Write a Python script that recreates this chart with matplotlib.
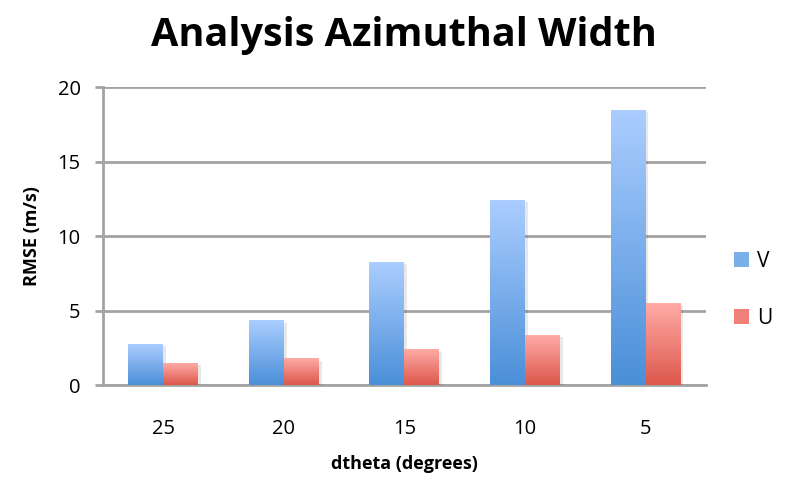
import numpy as np
import matplotlib
matplotlib.use("Agg")
import matplotlib.pyplot as plt
import matplotlib.patheffects as pe
from matplotlib.patches import Patch

plt.rcParams["font.family"] = ["Open Sans", "DejaVu Sans"]

# data
categories = ["25", "20", "15", "10", "5"]
v_vals = [2.75, 4.3, 8.2, 12.4, 18.45]
u_vals = [1.45, 1.75, 2.35, 3.35, 5.5]

# gradient colours (top, bottom)
v_top, v_bot = "#abcdff", "#4a8fd8"
u_top, u_bot = "#ffaba6", "#dc574b"

fig = plt.figure(figsize=(8.04, 4.87), dpi=100)
ax = fig.add_axes([0.128, 0.209, 0.750, 0.612])

x = np.arange(len(categories))
w = 0.29


def gradient_bars(xs, vals, top, bot, label):
    bars = ax.bar(xs, vals, width=w, color=bot, label=label, zorder=3,
                  path_effects=[pe.SimplePatchShadow(offset=(2, -1), alpha=0.09, shadow_rgbFace="k"),
                                pe.Normal()])
    cmap = matplotlib.colors.LinearSegmentedColormap.from_list("g", [bot, top])
    grad = np.linspace(0, 1, 256).reshape(-1, 1)
    for b in bars:
        x0, y0 = b.get_x(), b.get_y()
        ax.imshow(grad, cmap=cmap, origin="lower", aspect="auto",
                  extent=[x0, x0 + b.get_width(), y0, y0 + b.get_height()], zorder=4)
    return bars


gradient_bars(x - w / 2, v_vals, v_top, v_bot, "V")
gradient_bars(x + w / 2, u_vals, u_top, u_bot, "U")

ax.set_xlim(-0.5, len(categories) - 0.5)
ax.set_ylim(0, 20)
ax.set_yticks([0, 5, 10, 15, 20])
ax.set_xticks(x)
ax.set_xticklabels(categories)
ax.yaxis.grid(True, color="#a3a3a3", linewidth=2, zorder=0)
ax.set_axisbelow(True)

for s in ["top", "right"]:
    ax.spines[s].set_visible(False)
ax.spines["left"].set_color("#a3a3a3")
ax.spines["left"].set_linewidth(2)
ax.spines["bottom"].set_color("#a3a3a3")
ax.spines["bottom"].set_linewidth(2)
ax.tick_params(axis="y", length=6, width=2, color="#a3a3a3", labelsize=14.5, pad=10)
ax.tick_params(axis="x", length=0, labelsize=14.5, pad=24)

ax.set_title("Analysis Azimuthal Width", fontsize=28.5, fontweight="bold", pad=30)
ax.set_ylabel("RMSE (m/s)", fontsize=13, fontweight="bold", labelpad=12)
ax.set_xlabel("dtheta (degrees)", fontsize=13, fontweight="bold", labelpad=12)

handles = [Patch(facecolor="#7aafea", label="V"), Patch(facecolor="#ee8079", label="U")]
fig.legend(handles=handles, loc="center left", bbox_to_anchor=(0.89, 0.405), frameon=False,
           fontsize=15, labelspacing=1.75, handlelength=0.7, handleheight=0.7, handletextpad=0.4)

fig.savefig("out.png", dpi=100)
